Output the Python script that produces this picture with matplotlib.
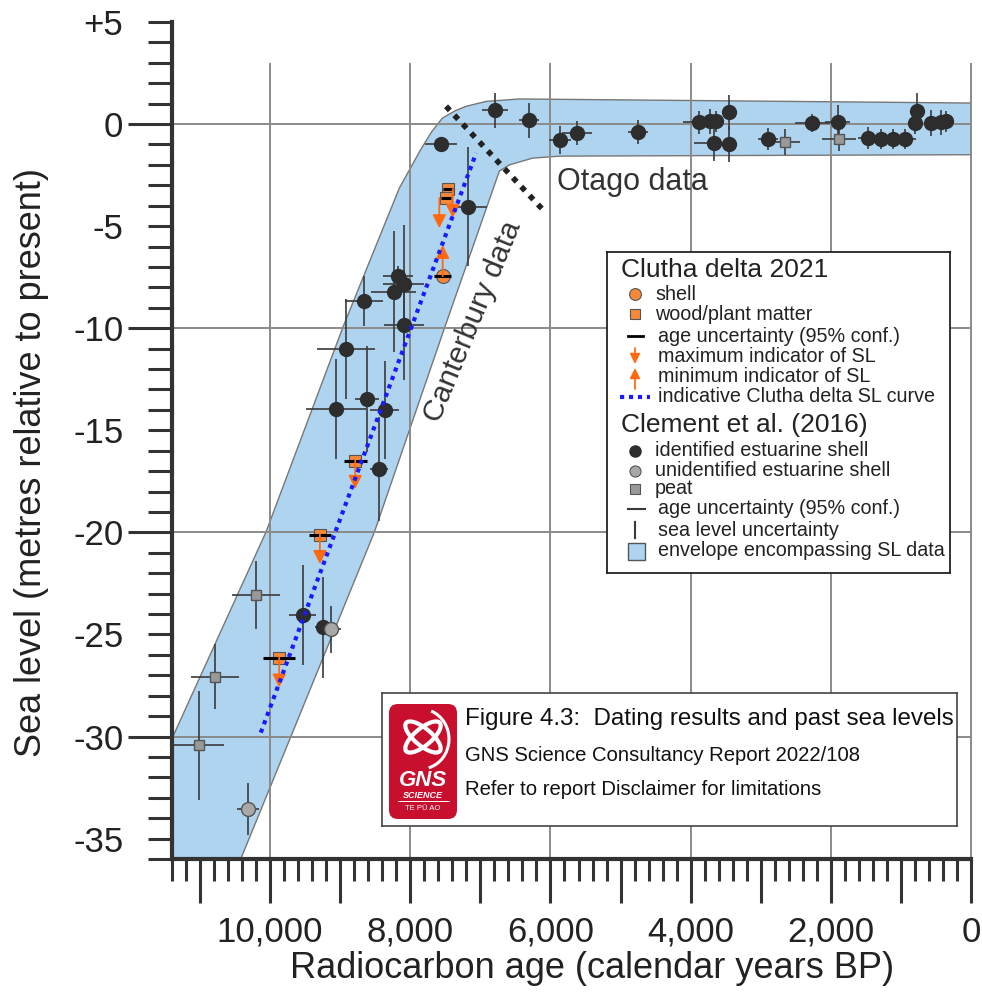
import matplotlib
matplotlib.use('Agg')
import matplotlib.pyplot as plt
from matplotlib.patches import Polygon, FancyBboxPatch, Ellipse, Arc, Rectangle
from matplotlib.ticker import MultipleLocator, FuncFormatter
import numpy as np

plt.rcParams['font.family'] = ['Liberation Sans', 'DejaVu Sans']

# Clement et al. (2016): identified estuarine shell (age BP, SL m, 95% age half-width, SL half-range)
id_age = [7561, 6790, 6310, 7181, 8181, 8096, 8238, 8657, 8096, 8919, 8619, 9061, 8367, 8443, 9538, 9243,
          5862, 5624, 4752, 3886, 3719, 3643, 3457, 3667, 3457, 2895, 2262, 1904, 1476, 1286, 1110, 943,
          776, 800, 571, 433, 362]
id_sl = [-0.98, 0.67, 0.18, -4.04, -7.43, -7.85, -8.21, -8.66, -9.85, -11.0, -13.45, -13.94, -14.02, -16.89,
         -24.05, -24.66,
         -0.77, -0.44, -0.39, 0.08, 0.13, 0.13, 0.57, -0.93, -0.98, -0.74, 0.05, 0.1, -0.69, -0.72, -0.72, -0.72,
         0.62, 0.05, 0.05, 0.08, 0.13]
id_age_err = [225, 180, 140, 270, 214, 290, 320, 274, 285, 412, 170, 428, 202, 128, 195, 120,
              155, 215, 143, 225, 100, 90, 80, 285, 100, 143, 250, 180, 135, 100, 100, 155,
              100, 100, 100, 130, 100]
id_sl_err = [0.3, 0.85, 0.86, 2.93, 0.5, 2.9, 2.95, 1.23, 2.7, 2.45, 2.6, 2.45, 2.4, 2.55, 2.43, 2.45,
             0.7, 0.58, 0.6, 0.55, 0.6, 0.5, 0.86, 0.9, 0.9, 0.55, 0.45, 0.82, 0.55, 0.5, 0.5, 0.5,
             0.9, 0.55, 0.65, 0.6, 0.5]

# unidentified estuarine shell
unid_age = [9133, 10314]
unid_sl = [-24.74, -33.55]
unid_age_err = [150, 155]
unid_sl_err = [1.15, 1.27]

# peat
peat_age = [10204, 10786, 11010, 2657, 1881]
peat_sl = [-23.07, -27.07, -30.44, -0.88, -0.74]
peat_age_err = [338, 338, 357, 224, 243]
peat_sl_err = [1.65, 1.58, 2.66, 0.65, 0.6]

# Clutha delta 2021: wood/plant matter (maximum indicators of SL)
wood_age = [7467, 7490, 8786, 9290, 9871]
wood_sl = [-3.18, -3.63, -16.48, -20.11, -26.13]
wood_age_err = [70, 70, 165, 160, 226]
max_arrow_age = [7395, 7586, 8786, 9290, 9871]
max_arrow_to = [-4.6, -5.1, -17.87, -21.55, -27.6]

# Clutha delta 2021: shell (minimum indicator of SL)
cshell_age = [7538]
cshell_sl = [-7.45]
cshell_age_err = [120]
min_arrow_to = [-5.92]

# indicative Clutha delta SL curve
curve_age = [10133, 7061]
curve_sl = [-29.81, -1.42]

# Otago data divider
otago_age = [7490, 6061]
otago_sl = [0.87, -4.37]

# envelope encompassing SL data
env_age = [11400, 11400, 10061, 8967, 8157, 7860, 7700, 7543, 7360, 7204, 6919, 6443, 0,
           0, 5871, 6257, 6586, 6729, 7514, 8514, 9681, 10419]
env_sl = [-36, -30.1, -20.0, -10.0, -3.14, -1.3, -0.4, 0.29, 0.65, 0.87, 1.11, 1.23, 1.03,
          -1.5, -1.57, -1.67, -2.0, -2.3, -10.01, -20.0, -29.81, -36]

grid_ages = [10000, 8000, 6000, 4000, 2000, 0]
grid_sl = [0, -10, -20, -30]

W, H = 982, 992
fig = plt.figure(figsize=(W / 100, H / 100), dpi=100)


def box(x0, y0, x1, y1):
    return [x0 / W, 1 - y1 / H, (x1 - x0) / W, (y1 - y0) / H]


ax = fig.add_axes(box(172, 22, 971, 859))
ax.set_xlim(11400, 0)
ax.set_ylim(-36, 5)

dark = '#333333'
for s in ['top', 'right']:
    ax.spines[s].set_visible(False)
for s in ['left', 'bottom']:
    ax.spines[s].set_linewidth(3)
    ax.spines[s].set_color(dark)

ax.xaxis.set_major_locator(MultipleLocator(1000))
ax.xaxis.set_minor_locator(MultipleLocator(200))
ax.xaxis.set_major_formatter(FuncFormatter(
    lambda v, p: '{:,}'.format(int(round(v))) if round(v) % 2000 == 0 else ''))
ax.yaxis.set_major_locator(MultipleLocator(10))
ax.yaxis.set_minor_locator(MultipleLocator(1))
ax.yaxis.set_major_formatter(FuncFormatter(lambda v, p: '%d' % round(v)))
ax.yaxis.set_minor_formatter(FuncFormatter(
    lambda v, p: ('+%d' % round(v) if v > 0 else '%d' % round(v)) if round(v) % 5 == 0 else ''))
ax.tick_params(which='both', direction='out', color=dark, width=2.2, labelsize=25, labelcolor='#222222')
ax.tick_params(axis='x', which='major', length=32, pad=9)
ax.tick_params(axis='x', which='minor', length=16)
ax.tick_params(axis='y', which='major', length=32, pad=3)
ax.tick_params(axis='y', which='minor', length=17, pad=18)

ax.set_xlabel('Radiocarbon age (calendar years BP)', fontsize=26, color='#222222', va='center')
ax.xaxis.set_label_coords((592 - 172) / 799, -(968 - 859) / 837)
ax.set_ylabel('Sea level (metres relative to present)', fontsize=26, color='#222222', va='center')
ax.yaxis.set_label_coords((32 - 172) / 799, 1 - (462 - 22) / 837)

# envelope
ax.add_patch(Polygon(np.column_stack([env_age, env_sl]), closed=True, fc='#aed4f0',
                     ec='#777777', lw=1.0, zorder=1))

# grid
ax.vlines(grid_ages, -36, 3, colors='#8a8a8a', lw=1.4, zorder=2, clip_on=False)
ax.hlines(grid_sl, 11400, 0, colors='#8a8a8a', lw=1.4, zorder=2)

# Clement et al. error bars and markers
ebc = '#3a3a3a'
for a, s, ae, se in [(id_age, id_sl, id_age_err, id_sl_err),
                     (unid_age, unid_sl, unid_age_err, unid_sl_err),
                     (peat_age, peat_sl, peat_age_err, peat_sl_err)]:
    ax.errorbar(a, s, xerr=ae, yerr=se, fmt='none', ecolor=ebc, elinewidth=1.2, capsize=0, zorder=3)
ax.plot(id_age, id_sl, 'o', ms=10, mfc='#2d2d2d', mec='#2d2d2d', zorder=4)
ax.plot(unid_age, unid_sl, 'o', ms=10, mfc='#a8a8a8', mec='#555555', mew=1, zorder=4)
ax.plot(peat_age, peat_sl, 's', ms=7.5, mfc='#999999', mec='#555555', mew=1, zorder=4)

# Clutha delta 2021
orange = '#ff6a10'
ax.plot(wood_age, wood_sl, 's', ms=8, mfc='#f5883a', mec='#555555', mew=0.8, zorder=5)
ax.plot(cshell_age, cshell_sl, 'o', ms=10, mfc='#f5883a', mec='#555555', mew=0.8, zorder=5)
ax.errorbar(wood_age + cshell_age, wood_sl + cshell_sl, xerr=wood_age_err + cshell_age_err,
            fmt='none', ecolor='black', elinewidth=2.2, capsize=0, zorder=6)
arrow_kw = dict(arrowstyle='-|>', color=orange, lw=1.3, mutation_scale=20, shrinkA=0, shrinkB=0)
for a, s0, s1 in zip(max_arrow_age, wood_sl, max_arrow_to):
    ax.annotate('', xy=(a, s1), xytext=(a, s0), arrowprops=arrow_kw, zorder=7)
for a, s0, s1 in zip(cshell_age, cshell_sl, min_arrow_to):
    ax.annotate('', xy=(a, s1), xytext=(a, s0), arrowprops=arrow_kw, zorder=7)

ax.plot(curve_age, curve_sl, color='#1a1aff', lw=3, linestyle=(0, (1, 1.15)),
        dash_capstyle='butt', zorder=8)
ax.plot(otago_age, otago_sl, color='#222222', lw=4, linestyle=(0, (1, 1.2)),
        dash_capstyle='butt', zorder=8)

ax.text(5900, -3.24, 'Otago data', fontsize=22, color=dark, ha='left', va='baseline', zorder=9)
ax.text(7100, -9.67, 'Canterbury data', fontsize=21.5, color=dark, ha='center', va='center',
        rotation=67.6, rotation_mode='anchor', zorder=9)

# legend (drawn in pixel coordinates of its own box)
lax = fig.add_axes(box(607, 252, 950, 573), zorder=10)
lax.set_xlim(607, 950)
lax.set_ylim(573, 252)
lax.set_xticks([])
lax.set_yticks([])
for s in lax.spines.values():
    s.set_linewidth(1.3)
    s.set_color('#222222')

hdr_fs, item_fs = 19, 14.2
mx, tx = 635, 655
tc = '#222222'
lax.text(621, 270, 'Clutha delta 2021', fontsize=hdr_fs, va='center', color=tc)
lax.plot(mx, 294, 'o', ms=8.5, mfc='#f5883a', mec='#555555', mew=0.8)
lax.text(tx, 294, 'shell', fontsize=item_fs, va='center', color=tc)
lax.plot(mx, 314, 's', ms=6.5, mfc='#f5883a', mec='#555555', mew=0.8)
lax.text(tx, 314, 'wood/plant matter', fontsize=item_fs, va='center', color=tc)
lax.plot([628, 643], [336, 336], color='black', lw=2)
lax.text(tx + 3, 336, 'age uncertainty (95% conf.)', fontsize=item_fs, va='center', color=tc)
lax.annotate('', xy=(mx, 364), xytext=(mx, 348), arrowprops=dict(arrow_kw, mutation_scale=15))
lax.text(tx + 3, 357, 'maximum indicator of SL', fontsize=item_fs, va='center', color=tc)
lax.annotate('', xy=(mx, 368), xytext=(mx, 389), arrowprops=dict(arrow_kw, mutation_scale=15))
lax.text(tx + 3, 377, 'minimum indicator of SL', fontsize=item_fs, va='center', color=tc)
lax.plot([620, 650], [397, 397], color='#1a1aff', lw=3, linestyle=(0, (1, 1.15)), dash_capstyle='butt')
lax.text(tx + 3, 397, 'indicative Clutha delta SL curve', fontsize=item_fs, va='center', color=tc)
lax.text(621, 425, 'Clement et al. (2016)', fontsize=hdr_fs, va='center', color=tc)
lax.plot(mx, 451, 'o', ms=8, mfc='#2d2d2d', mec='#2d2d2d')
lax.text(tx, 451, 'identified estuarine shell', fontsize=item_fs, va='center', color=tc)
lax.plot(mx, 471, 'o', ms=8, mfc='#a8a8a8', mec='#555555', mew=0.8)
lax.text(tx, 471, 'unidentified estuarine shell', fontsize=item_fs, va='center', color=tc)
lax.plot(mx, 489, 's', ms=6.5, mfc='#999999', mec='#555555', mew=0.8)
lax.text(tx, 489, 'peat', fontsize=item_fs, va='center', color=tc)
lax.plot([628, 645], [509, 509], color=ebc, lw=1.5)
lax.text(tx + 3, 509, 'age uncertainty (95% conf.)', fontsize=item_fs, va='center', color=tc)
lax.plot([mx, mx], [522, 538], color=ebc, lw=1.5)
lax.text(tx + 3, 530, 'sea level uncertainty', fontsize=item_fs, va='center', color=tc)
lax.add_patch(Rectangle((628, 543), 17, 17, fc='#aed4f0', ec='#555555', lw=1))
lax.text(tx + 3, 551, 'envelope encompassing SL data', fontsize=item_fs, va='center', color=tc)

# report stamp with GNS logo
gax = fig.add_axes(box(382, 693, 957, 826), zorder=10)
gax.set_xlim(382, 957)
gax.set_ylim(826, 693)
gax.set_xticks([])
gax.set_yticks([])
for s in gax.spines.values():
    s.set_linewidth(1.2)
    s.set_color('#444444')
gax.add_patch(FancyBboxPatch((392, 707), 62, 109, boxstyle='round,pad=3,rounding_size=9',
                             fc='#c8102e', ec='none'))
gax.add_patch(Ellipse((423, 737), 44, 17, angle=40, fill=False, ec='white', lw=3))
gax.add_patch(Ellipse((423, 737), 44, 17, angle=-40, fill=False, ec='white', lw=3))
gax.add_patch(Arc((421, 739), 56, 60, angle=0, theta1=-70, theta2=75, ec='white', lw=2.2))
gax.text(423, 781, 'GNS', fontsize=16, color='white', weight='bold', style='italic',
         ha='center', va='center')
gax.text(423, 795, 'SCIENCE', fontsize=6.5, color='white', weight='bold', style='italic',
         ha='center', va='center')
gax.plot([398, 449], [801, 801], color='white', lw=0.7)
gax.text(423, 808, 'TE PŪ AO', fontsize=5.5, color='white', ha='center', va='center')
gax.text(465, 725, 'Figure 4.3:  Dating results and past sea levels', fontsize=17.4,
         va='baseline', color='#111111')
gax.text(465, 761, 'GNS Science Consultancy Report 2022/108', fontsize=14.6,
         va='baseline', color='#111111')
gax.text(465, 795, 'Refer to report Disclaimer for limitations', fontsize=14.6,
         va='baseline', color='#111111')

fig.savefig('out.png', dpi=100, facecolor='white')
